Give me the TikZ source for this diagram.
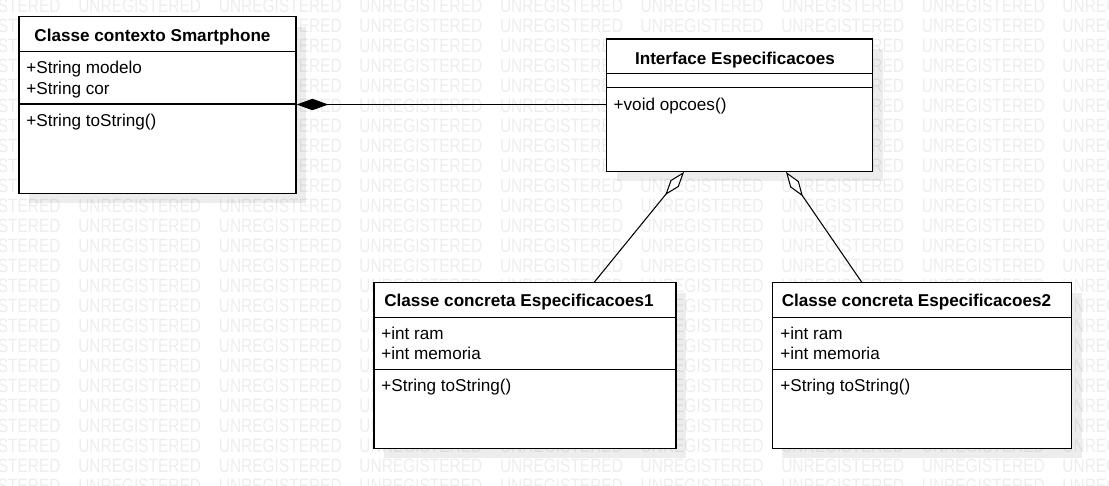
\documentclass[tikz,border=0pt]{standalone}
\usepackage{fontspec}
\setmainfont{Liberation Sans}
\usetikzlibrary{arrows.meta,fit,shadows}

\begin{document}
\begin{tikzpicture}[x=0.02cm,y=-0.02cm,
    classbox/.style={draw,fill=white,line width=0.7pt,inner sep=0pt,
        drop shadow={shadow xshift=0.2cm,shadow yshift=-0.2cm,fill=black,opacity=0.07}},
    classname/.style={anchor=base,inner sep=0pt,font=\fontsize{9.75}{12}\selectfont\bfseries},
    member/.style={anchor=base west,inner sep=0pt,font=\fontsize{9.75}{12}\selectfont},
    watermark/.style={anchor=west,inner sep=0pt,xscale=0.8,text=black!7,font=\fontsize{11}{13}\selectfont},
    composition/.style={line width=0.6pt,{Diamond[length=18pt,width=6.5pt]}-},
    aggregation/.style={line width=0.6pt,{Diamond[length=17pt,width=6pt,fill=white]}-}]
    \useasboundingbox (0,0) rectangle (1109,485);

    \begin{scope}
        \clip (0,0) rectangle (1109,485);
        \foreach \r in {0,...,24}
            \foreach \c in {-1,...,7}
                \node[watermark] (wm-\r-\c) at (78+140.6*\c,6+20*\r) {UNREGISTERED};
    \end{scope}

    \node[classbox,fit={(19,16.7) (296,193.3)}] (smart) {};
    \node[classbox,fit={(606.7,39) (872.7,171.3)}] (spec) {};
    \node[classbox,fit={(374,282.7) (676,448.3)}] (conc1) {};
    \node[classbox,fit={(772.3,282.7) (1071.7,448.3)}] (conc2) {};

    \draw[line width=0.7pt] (smart.west |- 0,51.5) -- (smart.east |- 0,51.5);
    \draw[line width=0.7pt] (smart.west |- 0,104) -- (smart.east |- 0,104);
    \draw[line width=0.7pt] (spec.west |- 0,73.3) -- (spec.east |- 0,73.3);
    \draw[line width=0.7pt] (spec.west |- 0,87.3) -- (spec.east |- 0,87.3);
    \draw[line width=0.7pt] (conc1.west |- 0,317.3) -- (conc1.east |- 0,317.3);
    \draw[line width=0.7pt] (conc1.west |- 0,369.3) -- (conc1.east |- 0,369.3);
    \draw[line width=0.7pt] (conc2.west |- 0,317.3) -- (conc2.east |- 0,317.3);
    \draw[line width=0.7pt] (conc2.west |- 0,369.3) -- (conc2.east |- 0,369.3);

    \node[classname] (smartname) at (152.5,41) {Classe contexto Smartphone};
    \node[member] (smartmodelo) at (26,73.3) {+String modelo};
    \node[member] (smartcor) at (26,94) {+String cor};
    \node[member] (smartstr) at (26,126.7) {+String toString()};

    \node[classname] (specname) at (735,64.3) {Interface Especificacoes};
    \node[member] (specop) at (613.3,110) {+void opcoes()};

    \node[classname] (conc1name) at (519,306.7) {Classe concreta Especificacoes1};
    \node[member] (conc1ram) at (381,339) {+int ram};
    \node[member] (conc1mem) at (381,359.3) {+int memoria};
    \node[member] (conc1str) at (381,391.7) {+String toString()};

    \node[classname] (conc2name) at (916.5,306.7) {Classe concreta Especificacoes2};
    \node[member] (conc2ram) at (780,339) {+int ram};
    \node[member] (conc2mem) at (780,359.3) {+int memoria};
    \node[member] (conc2str) at (780,391.7) {+String toString()};

    \coordinate (compline) at (0,104.5);
    \draw[composition] (smart.east |- compline) -- (spec.west |- compline);
    \draw[aggregation] ([xshift=1.56cm]spec.south west) -- ([xshift=4.42cm]conc1.north west);
    \draw[aggregation] ([xshift=3.6cm]spec.south west) -- ([xshift=1.8cm]conc2.north west);
\end{tikzpicture}
\end{document}
